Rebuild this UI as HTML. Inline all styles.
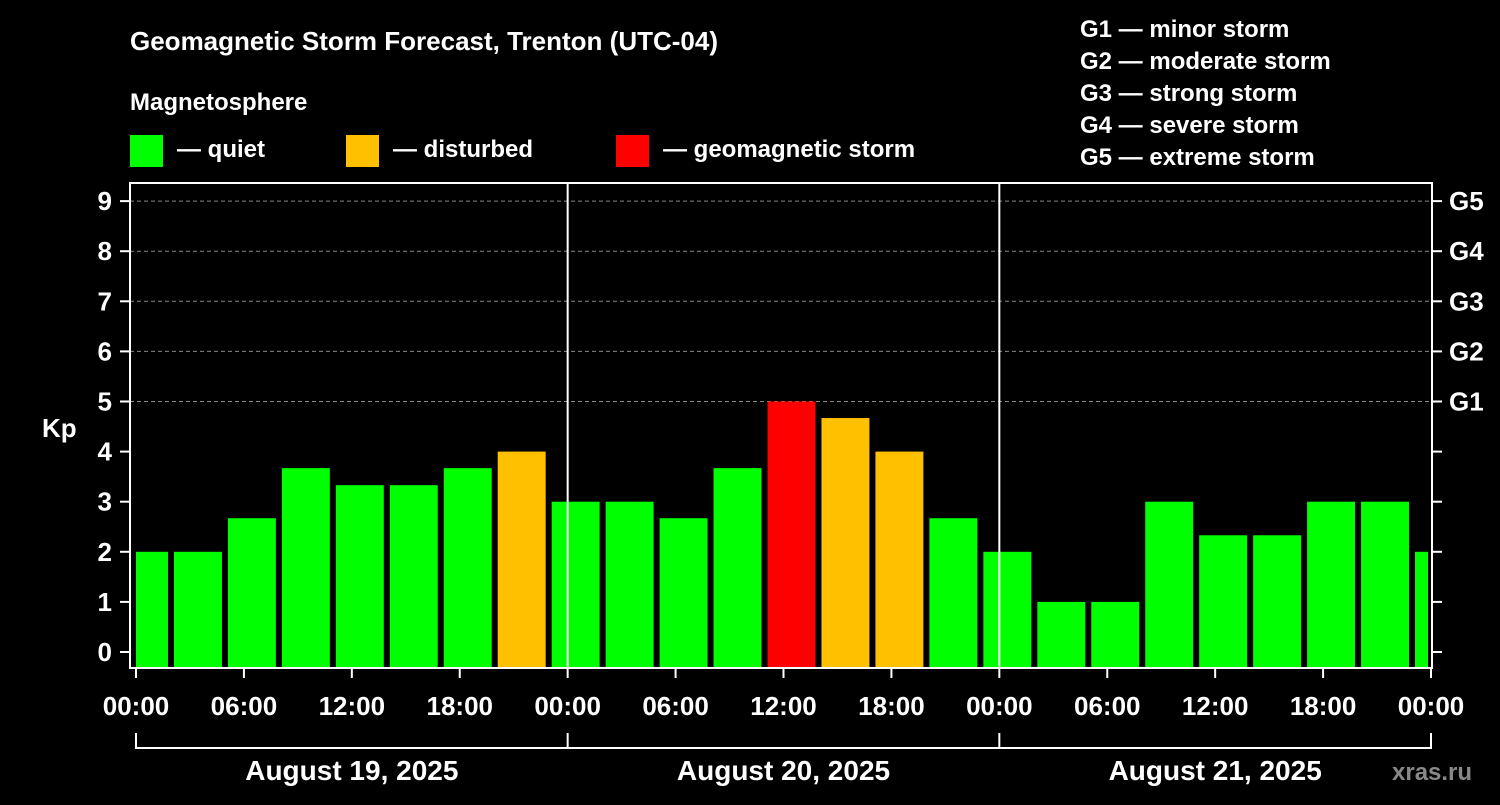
<!DOCTYPE html>
<html><head><meta charset="utf-8"><style>
body{margin:0;background:#000;width:1500px;height:800px;overflow:hidden;font-family:"Liberation Sans",sans-serif;}
svg text{font-family:"Liberation Sans",sans-serif;font-weight:bold;fill:#fff;}
</style></head><body>
<svg id="c" width="1500" height="800">
<text x="130" y="50" font-size="26">Geomagnetic Storm Forecast, Trenton (UTC-04)</text>
<text x="130" y="110" font-size="24">Magnetosphere</text>
<rect x="130" y="135" width="33" height="32" fill="#00ff00"/>
<text x="177" y="157" font-size="24">— quiet</text>
<rect x="346" y="135" width="33" height="32" fill="#ffc000"/>
<text x="393" y="157" font-size="24">— disturbed</text>
<rect x="616" y="135" width="33" height="32" fill="#ff0000"/>
<text x="663" y="157" font-size="24">— geomagnetic storm</text>
<g font-size="24">
<text x="1080" y="37">G1 — minor storm</text>
<text x="1080" y="69">G2 — moderate storm</text>
<text x="1080" y="101">G3 — strong storm</text>
<text x="1080" y="133">G4 — severe storm</text>
<text x="1080" y="165">G5 — extreme storm</text>
</g>
<text x="42" y="437" font-size="26">Kp</text>
<text x="1392" y="780" font-size="24" fill="#777" style="fill:#888">xras.ru</text>
<g id="g"></g>
</svg>
<script>
const binStarts=[-1,2,5,8,11,14,17,20,23,26,29,32,35,38,41,44,47,50,53,56,59,62,65,68,71];
const kpValues=[2,2,2.67,3.67,3.33,3.33,3.67,4,3,3,2.67,3.67,5,4.67,4,2.67,2,1,1,3,2.33,2.33,3,3,2];
const hourTicks=["00:00","06:00","12:00","18:00","00:00","06:00","12:00","18:00","00:00","06:00","12:00","18:00","00:00"];
const dayLabels=["August 19, 2025","August 20, 2025","August 21, 2025"];
const gLabels=["G1","G2","G3","G4","G5"];
const X0=136,X1=1431,HOURS=72,PT=183,PB=668;
const x=h=>X0+(X1-X0)*h/HOURS;
const y=v=>652-v*50.1;
const g=document.getElementById('g');const NS='http://www.w3.org/2000/svg';
function mk(t,a){const e=document.createElementNS(NS,t);for(const k in a)e.setAttribute(k,a[k]);g.appendChild(e);return e;}
// grid
for(let v=5;v<=9;v++){const l=mk('line',{x1:130,x2:1432,y1:y(v),y2:y(v),stroke:'#888','stroke-dasharray':'4,3','stroke-width':1});

}
// bars
binStarts.forEach((s,i)=>{const v=kpValues[i];const a=Math.max(s,0),b=Math.min(s+3,HOURS);
const x1=x(a)+(s<0?0:2),x2=x(b)-(s+3>HOURS?3:4);
const col=v>=5?'#ff0000':v>=4?'#ffc000':'#00ff00';
const r=mk('rect',{x:x1,y:y(v),width:x2-x1,height:PB-y(v),fill:col});

});
// day dividers
[1,2].forEach(d=>{const l=mk('line',{x1:x(d*24),x2:x(d*24),y1:PT,y2:PB,stroke:'#fff','stroke-width':2});

});
// frame
const f=mk('rect',{x:130,y:PT,width:1302,height:PB-PT,fill:'none',stroke:'#fff','stroke-width':2});


// y ticks
for(let v=0;v<=9;v++){
mk('line',{x1:120,x2:130,y1:y(v),y2:y(v),stroke:'#fff','stroke-width':2});
mk('line',{x1:1432,x2:1442,y1:y(v),y2:y(v),stroke:'#fff','stroke-width':2});
const t=mk('text',{x:112,y:y(v)+9,'font-size':26,'text-anchor':'end'});t.textContent=v;

}
gLabels.forEach((s,i)=>{const t=mk('text',{x:1449,y:y(5+i)+9,'font-size':26});t.textContent=s;

});
// x ticks
hourTicks.forEach((s,i)=>{const xx=x(i*6);
mk('line',{x1:xx,x2:xx,y1:PB,y2:PB+10,stroke:'#fff','stroke-width':2});
const t=mk('text',{x:xx,y:715,'font-size':26,'text-anchor':'middle'});t.textContent=s;

});
// date bracket
mk('line',{x1:x(0),x2:x(72),y1:748,y2:748,stroke:'#fff','stroke-width':2});
for(let d=0;d<=3;d++)mk('line',{x1:x(d*24),x2:x(d*24),y1:733,y2:749,stroke:'#fff','stroke-width':2});
dayLabels.forEach((s,i)=>{const t=mk('text',{x:x(i*24+12),y:780,'font-size':28,'text-anchor':'middle'});t.textContent=s;

});
</script>
</body></html>
